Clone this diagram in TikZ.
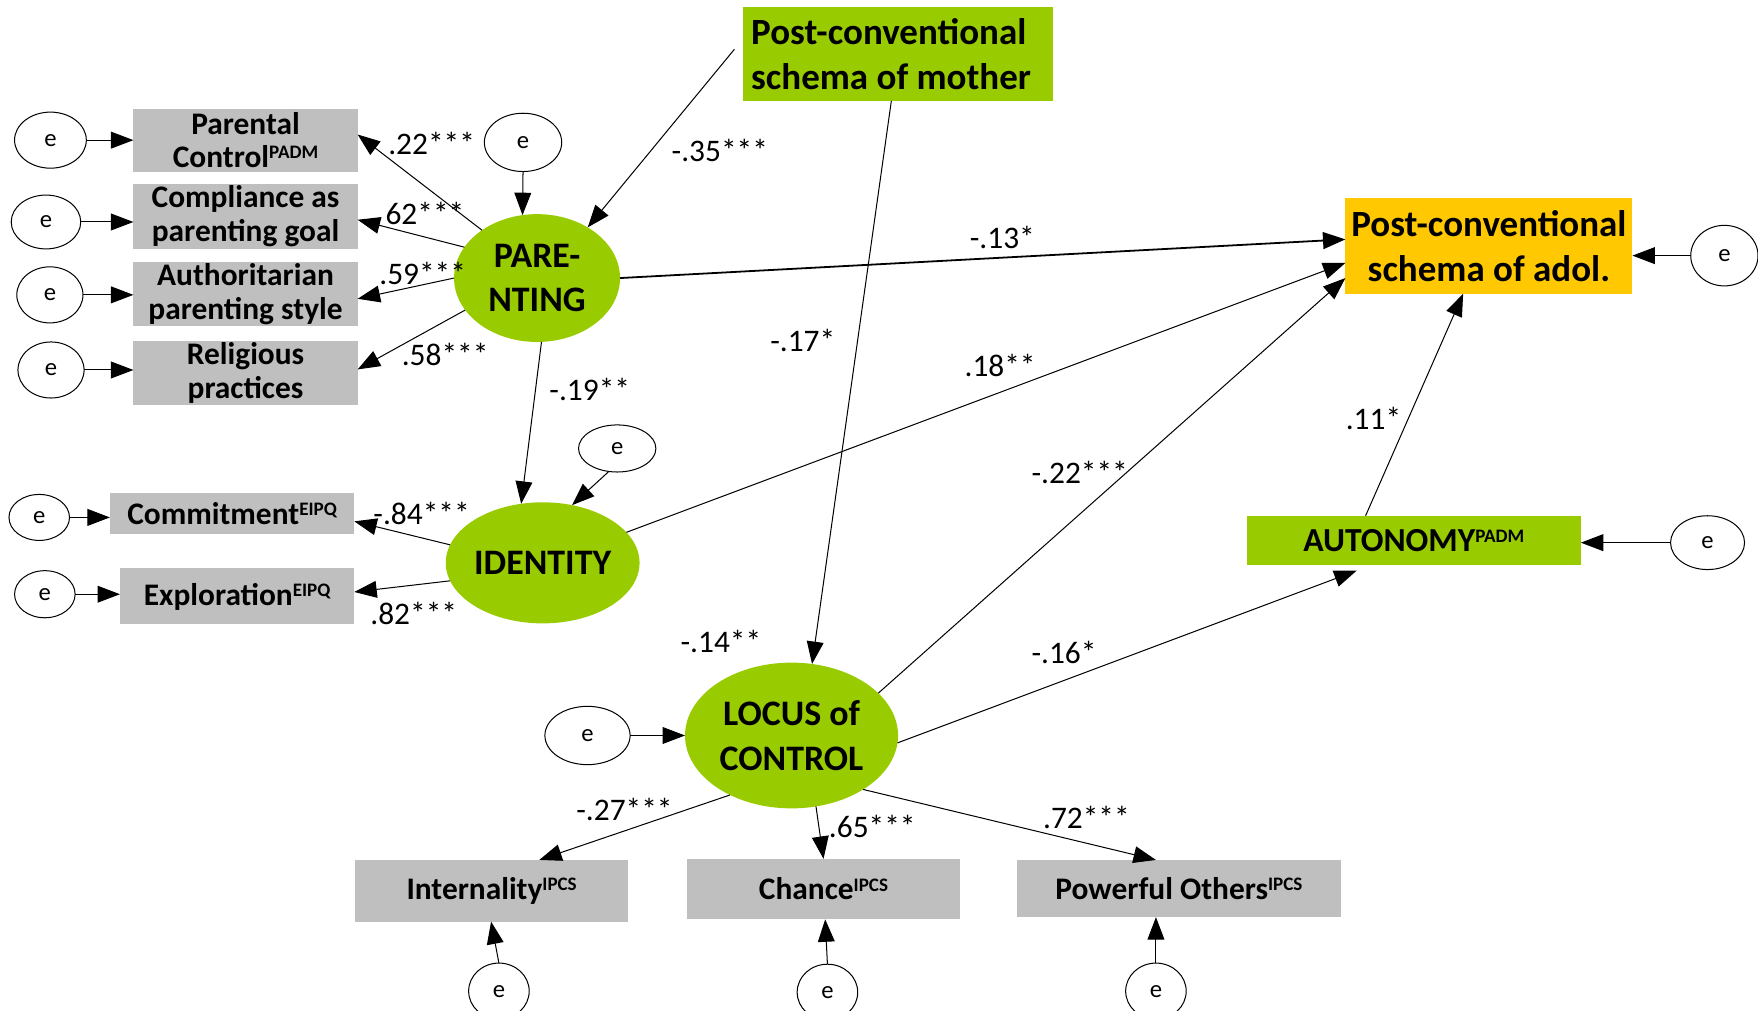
\documentclass[tikz,border=0pt]{standalone}
\usepackage{fontspec}
\setmainfont{Carlito}
\usetikzlibrary{arrows.meta,shapes.geometric}
\definecolor{lgreen}{HTML}{99CC00}
\definecolor{dgold}{HTML}{FFC800}
\definecolor{boxgray}{HTML}{BFBFBF}
\newcommand\sps[1]{\raisebox{8pt}{\fontsize{17}{17}\selectfont #1}}
\begin{document}
\begin{tikzpicture}[x=1pt,y=-1pt,
  every node/.style={inner sep=0pt, outer sep=0pt},
  err/.style={ellipse, draw=black, line width=0.9pt, fill=white, font=\fontsize{22}{22}\selectfont},
  gbox/.style={rectangle, fill=boxgray, font=\fontsize{28}{30}\selectfont\bfseries, align=center},
  lat/.style={ellipse, fill=lgreen, font=\fontsize{32}{40}\selectfont\bfseries, align=center},
  tbox/.style={rectangle, font=\fontsize{33}{40}\selectfont\bfseries},
  coef/.style={font=\fontsize{28}{30}\selectfont},
  arr/.style={-{Triangle[length=20pt,width=15pt]}, line width=0.9pt},
]
\useasboundingbox (0,0) rectangle (1568,901);
\clip (0,0) rectangle (1568,901);

% indicator boxes
\node[gbox, minimum width=200pt, minimum height=56pt] (pc) at (219,125) {Parental\\Control\sps{PADM}};
\node[gbox, minimum width=200pt, minimum height=58pt] (cg) at (219,193) {Compliance as\\parenting goal};
\node[gbox, minimum width=200pt, minimum height=57pt] (ap) at (219,262.5) {Authoritarian\\parenting style};
\node[gbox, minimum width=200pt, minimum height=57pt] (rp) at (219,332.5) {Religious\\practices};
\node[gbox, minimum width=218pt, minimum height=36pt] (com) at (207,458) {Commitment\sps{EIPQ}};
\node[gbox, minimum width=209pt, minimum height=50pt] (exp) at (211.5,532) {Exploration\sps{EIPQ}};
\node[gbox, minimum width=243pt, minimum height=55pt] (intl) at (438.5,794.5) {Internality\sps{IPCS}};
\node[gbox, minimum width=243pt, minimum height=54pt] (chn) at (734.5,793) {Chance\sps{IPCS}};
\node[gbox, minimum width=289pt, minimum height=51pt] (pow) at (1051.5,792.5) {Powerful Others\sps{IPCS}};

% latent variables
\node[lat, minimum width=148pt, minimum height=114pt] (par) at (479,248) {PARE-\\NTING};
\node[lat, minimum width=168pt, minimum height=108pt] (idn) at (484,502) {IDENTITY};
\node[lat, minimum width=190pt, minimum height=130pt] (loc) at (706,656) {LOCUS of\\CONTROL};

% observed boxes
\node[tbox, fill=lgreen, inner xsep=7pt, text width=262pt, minimum height=84pt, align=flush left] (mom) at (801,48) {Post-conventional\\schema of mother};
\node[tbox, fill=dgold, minimum width=256pt, minimum height=85pt, align=center] (adol) at (1328,219.5) {Post-conventional\\schema of adol.};
\node[gbox, fill=lgreen, font=\fontsize{30}{30}\selectfont\bfseries, minimum width=298pt, minimum height=44pt] (aut) at (1261,482) {AUTONOMY\sps{PADM}};

% error terms
\node[err, minimum width=64pt, minimum height=50pt] (e1) at (45,125) {e};
\node[err, minimum width=62pt, minimum height=48pt] (e2) at (41,198) {e};
\node[err, minimum width=59pt, minimum height=50pt] (e3) at (44.5,263) {e};
\node[err, minimum width=59pt, minimum height=50pt] (e4) at (45.5,330) {e};
\node[err, minimum width=54pt, minimum height=41pt] (e5) at (35,461.5) {e};
\node[err, minimum width=54pt, minimum height=42pt] (e6) at (40,530) {e};
\node[err, minimum width=69pt, minimum height=52pt] (ePar) at (466.5,127) {e};
\node[err, minimum width=69pt, minimum height=42pt] (eIdn) at (550.5,400) {e};
\node[err, minimum width=76pt, minimum height=52pt] (eLoc) at (524,656) {e};
\node[err, minimum width=60pt, minimum height=54pt] (eAdol) at (1538,228) {e};
\node[err, minimum width=66pt, minimum height=48pt] (eAut) at (1523,484) {e};
\node[err, minimum width=54pt, minimum height=50pt] (eInt) at (445,884) {e};
\node[err, minimum width=54pt, minimum height=50pt] (eChn) at (738,885) {e};
\node[err, minimum width=54pt, minimum height=50pt] (ePow) at (1031,884) {e};

% error arrows
\draw[arr] (e1.east) -- (e1.east -| pc.west);
\draw[arr] (e2.east) -- (e2.east -| cg.west);
\draw[arr] (e3.east) -- (e3.east -| ap.west);
\draw[arr] (e4.east) -- (e4.east -| rp.west);
\draw[arr] (e5.east) -- (e5.east -| com.west);
\draw[arr] (e6.east) -- (e6.east -| exp.west);
\draw[arr] (ePar.south) -- (par.103);
\draw[arr] (eIdn.250) -- (idn.63);
\draw[arr] (eLoc) -- (loc);
\draw[arr] (eAdol.west) -- (eAdol.west -| adol.east);
\draw[arr] (eAut.west) -- (eAut.west -| aut.east);
\draw[arr] (eInt.north) -- ([xshift=121pt]intl.south west);
\draw[arr] (eChn.north) -- ([xshift=123pt]chn.south west);
\draw[arr] (ePow.north) -- ([xshift=124pt]pow.south west);

% measurement paths
\draw[arr] (par.139) -- ([yshift=5pt]pc.east);
\draw[arr] (par.157) -- ([yshift=-3pt]cg.east);
\draw[arr] (par.180) -- ([yshift=-4pt]ap.east);
\draw[arr] (par.204) -- ([yshift=3pt]rp.east);
\draw[arr] (idn.169) -- ([yshift=-7pt]com.east);
\draw[arr] (idn.191) -- ([yshift=4pt]exp.east);
\draw[arr] (loc.224) -- ([xshift=164pt]intl.north west);
\draw[arr] (loc.289) -- (chn.north);
\draw[arr] (loc.323) -- ([xshift=124pt]pow.north west);

% structural paths
\draw[arr] ([xshift=-8pt,yshift=4pt]mom.west) -- (par.45);
\draw[arr, line width=1.6pt] (par.east) -- ([yshift=6pt]adol.west);
\draw[arr] (par.274) -- (idn.110);
\draw[arr] (idn.20) -- ([yshift=-15pt]adol.west);
\draw[arr] ([xshift=132pt]mom.south west) -- (loc.74);
\draw[arr] (loc.26) -- ([yshift=14pt]adol.south west);
\draw[arr] (loc.356) -- ([xshift=98pt,yshift=-5pt]aut.south west);
\draw[arr] ([xshift=106pt]aut.north west) -- ([xshift=105pt]adol.south west);

% coefficients
\node[coef] (l1) at (385,128) {.22***};
\node[coef] (l2) at (379,190) {62***};
\node[coef] (l3) at (377,244) {.59***};
\node[coef] (l4) at (397,316) {.58***};
\node[coef] (l5) at (642,134) {-.35***};
\node[coef] (l6) at (894,212) {-.13*};
\node[coef] (l7) at (716,304) {-.17*};
\node[coef] (l8) at (892,326) {.18**};
\node[coef] (l9) at (526,347) {-.19**};
\node[coef] (l10) at (1225,373) {.11*};
\node[coef] (l11) at (963,421) {-.22***};
\node[coef] (l12) at (376,458) {-.84***};
\node[coef] (l13) at (369,547) {.82***};
\node[coef] (l14) at (643,572) {-.14**};
\node[coef] (l15) at (949,582) {-.16*};
\node[coef] (l16) at (557,722) {-.27***};
\node[coef] (l17) at (778,737) {.65***};
\node[coef] (l18) at (969,729) {.72***};
\end{tikzpicture}
\end{document}
